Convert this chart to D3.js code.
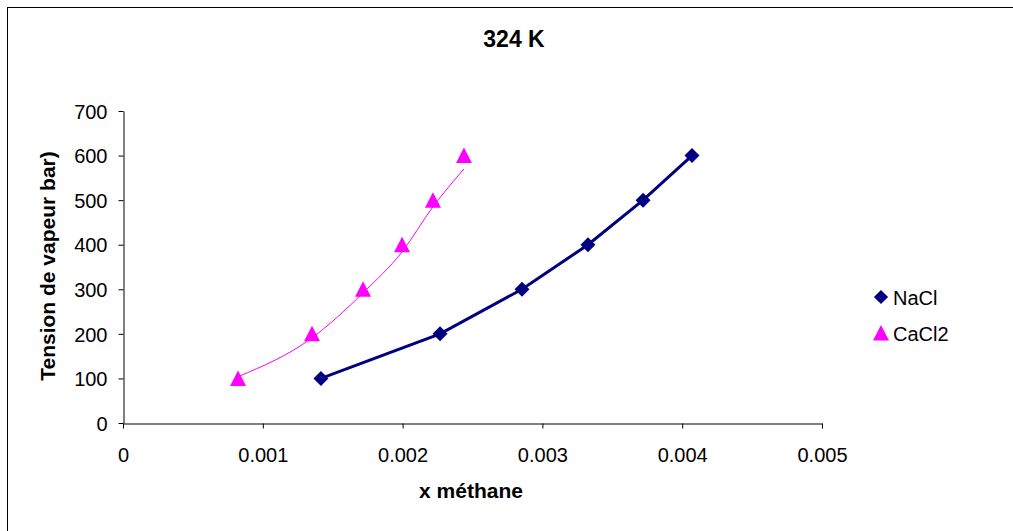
<!DOCTYPE html>
<html><head><meta charset="utf-8">
<script src="https://cdn.jsdelivr.net/npm/d3@7/dist/d3.min.js"></script>
<style>body{margin:0;background:#fff}svg{display:block}text{font-family:"Liberation Sans",Arial,sans-serif}</style>
</head><body>
<script>
const naclX = [0.001416, 0.002268, 0.002854, 0.003326, 0.00372, 0.00407];
const naclY = [100, 200, 300, 400, 500, 600];
const cacl2X = [0.000823, 0.001352, 0.001717, 0.001996, 0.002217, 0.002439];
const cacl2Y = [100, 200, 300, 400, 500, 600];
const cacl2TrendY = [104, 191, 292, 384, 485, 570];
const xTicks = [0, 0.001, 0.002, 0.003, 0.004, 0.005];
const yTicks = [0, 100, 200, 300, 400, 500, 600, 700];
const seriesNames = ["NaCl", "CaCl2"];

const W = 1013, H = 531;
const svg = d3.select("body").append("svg").attr("width", W).attr("height", H);
svg.append("rect").attr("x", 7.5).attr("y", 7.5).attr("width", W).attr("height", H)
  .attr("fill", "#fff").attr("stroke", "#000").attr("stroke-width", 1);

const x = d3.scaleLinear().domain([0, 0.005]).range([123, 822]);
const y = d3.scaleLinear().domain([0, 700]).range([423, 111]);

const xAxis = svg.append("g").attr("transform", "translate(0,423.5)")
  .call(d3.axisBottom(x).tickValues(xTicks).tickFormat(d => d === 0 ? "0" : d3.format(".3f")(d)).tickSize(5).tickSizeOuter(0));
const yAxis = svg.append("g").attr("transform", "translate(123.5,0)")
  .call(d3.axisLeft(y).tickValues(yTicks).tickFormat(d3.format("d")).tickSize(5).tickSizeOuter(0));
[xAxis, yAxis].forEach(a => {
  a.attr("font-size", null).attr("font-family", null);
  a.select(".domain").attr("stroke", "#000");
  a.selectAll(".tick line").attr("stroke", "#000");
  a.selectAll(".tick text").attr("fill", "#000").style("font-size", "20px")
   .style("font-family", "'Liberation Sans', Arial, sans-serif");
});
xAxis.selectAll(".tick text").attr("dy", "0").attr("y", 38.5);
yAxis.selectAll(".tick text").attr("x", -16).attr("dy", "0.36em");

const line = d3.line().x(d => x(d[0])).y(d => y(d[1]));
const nacl = naclX.map((v, i) => [v, naclY[i]]);
const cacl2 = cacl2X.map((v, i) => [v, cacl2Y[i]]);
const cacl2Trend = cacl2X.map((v, i) => [v, cacl2TrendY[i]]);

svg.append("path").datum(cacl2Trend).attr("d", line.curve(d3.curveMonotoneX))
  .attr("fill", "none").attr("stroke", "#FF00FF").attr("stroke-width", 1);
svg.append("path").datum(nacl).attr("d", line.curve(d3.curveLinear))
  .attr("fill", "none").attr("stroke", "#000080").attr("stroke-width", 3);

const diamond = d3.symbol().type(d3.symbolSquare).size(112)();
const triPath = "M0,-8L8,7.5L-8,7.5Z";

svg.selectAll(".nm").data(nacl).join("path")
  .attr("d", diamond).attr("transform", d => `translate(${x(d[0])},${y(d[1])}) rotate(45)`)
  .attr("fill", "#000080");
svg.selectAll(".cm").data(cacl2).join("path")
  .attr("d", triPath).attr("transform", d => `translate(${x(d[0])},${y(d[1])})`)
  .attr("fill", "#FF00FF");

// title and axis titles
svg.append("text").attr("x", 514).attr("y", 47).attr("text-anchor", "middle")
  .style("font-size", "23px").style("font-weight", "bold").text("324 K");
svg.append("text").attr("x", 471).attr("y", 498).attr("text-anchor", "middle")
  .style("font-size", "21px").style("font-weight", "bold").text("x méthane");
svg.append("text").attr("transform", "translate(55,266) rotate(-90)").attr("text-anchor", "middle")
  .style("font-size", "21px").style("font-weight", "bold").text("Tension de vapeur bar)");

// legend
const lg = svg.append("g");
lg.append("path").attr("d", d3.symbol().type(d3.symbolSquare).size(100)())
  .attr("transform", "translate(881,297) rotate(45)").attr("fill", "#000080");
lg.append("text").attr("x", 893).attr("y", 305).style("font-size", "20px").text(seriesNames[0]);
lg.append("path").attr("d", triPath)
  .attr("transform", "translate(881,333)").attr("fill", "#FF00FF");
lg.append("text").attr("x", 893).attr("y", 341).style("font-size", "20px").text(seriesNames[1]);
</script>
</body></html>
